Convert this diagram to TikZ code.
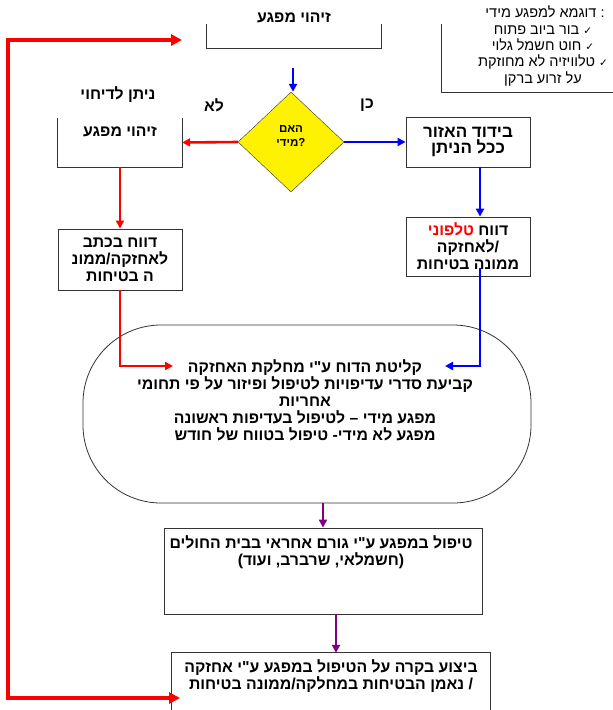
\documentclass[tikz,border=0pt]{standalone}
\usepackage{fontspec}
\setmainfont{Liberation Sans}[Script=Hebrew]
\newfontfamily\hebbold{Liberation Sans Bold}[Script=Hebrew]
\newfontfamily\checkfont{DejaVu Sans}
\TeXXeTstate=1
\usetikzlibrary{shapes.geometric,arrows.meta}
\definecolor{plum}{RGB}{128,0,128}
\newcommand{\heb}[1]{\beginR #1\endR}
\newcommand{\tick}{{\checkfont\fontsize{10.5}{10}\selectfont ✓}}

\begin{document}
\begin{tikzpicture}[x=1pt,y=-1pt,
  font=\hebbold\fontsize{15.8}{17}\selectfont,
  box/.style={draw=black!80,line width=0.8pt,inner sep=0pt},
  edge/.style={draw=black!80,line width=0.8pt},
  flow/.style={line width=2.6pt,-{Triangle[length=8pt,width=8pt]}},
  every node/.style={align=center}]
\useasboundingbox (0,0) rectangle (613,710);

%top box, open at the top
    \node[minimum width=174,minimum height=24,inner sep=0pt] (topbox) at (294,36) {};
    \draw[edge] (topbox.north west) -- (topbox.south west) -- (topbox.south east) -- (topbox.north east);
    \node (toplabel) at (294,18) {\heb{זיהוי מפגע}};

%example list
    \node[font=\fontsize{14.5}{16.4}\selectfont] (example) at (543,46)
      {\phantom{:}\heb{דוגמא למפגע מידי} :\\
       \heb{\tick\ בור ביוב פתוח}\\
       \heb{\tick\ חוט חשמל גלוי}\\
       \heb{\tick\ טלוויזיה לא מחוזקת}\\
       \heb{על זרוע ברקן}};
    \coordinate (exTop) at (441,24);
    \coordinate (exEnd) at (613,92);
    \draw[edge] (exTop) |- (exEnd);

%decision
    \node[diamond,draw=black!80,fill=yellow,minimum width=106,minimum height=100,inner sep=0pt] (urgent) at (291,142) {};
    \node[font=\hebbold\fontsize{11.5}{14}\selectfont] (urgenttext) at (291,136) {\heb{האם}\\\heb{מידי}?};
    \node (postpone) at (118,95) {\heb{ניתן לדיחוי}};
    \node (no) at (214,105) {\heb{לא}};
    \node (yes) at (367,105) {\heb{כן}};

%left branch
    \node[minimum width=124,minimum height=49,inner sep=0pt] (later) at (120,142.5) {};
    \draw[edge] (later.north west) -- (later.south west) -- (later.south east) -- (later.north east);
    \node (laterlabel) at (120,132) {\heb{זיהוי מפגע}};
    \node[box,minimum width=124,minimum height=61] (written) at (120,259.5)
      {\heb{דווח בכתב}\\\heb{לאחזקה/ממונ}\\\heb{ה בטיחות}};

%right branch
    \node[box,minimum width=124,minimum height=50,font=\hebbold\fontsize{17}{16.5}\selectfont] (isolate) at (468,142)
      {\heb{בידוד האזור}\\\heb{ככל הניתן}};
    \node[box,minimum width=124,minimum height=59] (phone) at (468,246.5)
      {{\color{red}\heb{טלפוני}} \heb{דווח}\\\heb{לאחזקה}/\\\heb{ממונה בטיחות}};

%maintenance
    \node[edge,rounded corners=78,minimum width=448,minimum height=178] (intake) at (307,414) {};
    \node (intaketext) at (305,400)
      {\heb{קליטת הדוח ע"י מחלקת האחזקה}\\
       \heb{קביעת סדרי עדיפויות לטיפול ופיזור על פי תחומי}\\
       \heb{אחריות}\\
       \heb{מפגע מידי – לטיפול בעדיפות ראשונה}\\
       \heb{מפגע לא מידי- טיפול בטווח של חודש}};
    \node[box,minimum width=318,minimum height=86] (handle) at (323,571) {};
    \node (handletext) at (321,552)
      {\heb{טיפול במפגע ע"י גורם אחראי בבית החולים}\\\heb{(חשמלאי, שרברב, ועוד)}};
    \node[minimum width=318,minimum height=57,inner sep=0pt] (control) at (331,681.5) {};
    \draw[edge] (control.south west) -- (control.north west) -- (control.north east) -- (control.south east);
    \node (controltext) at (331,676.5)
      {\heb{ביצוע בקרה על הטיפול במפגע ע"י אחזקה}\\\heb{נאמן הבטיחות במחלקה/ממונה בטיחות} /};

%connectors
    \coordinate (askIn) at (293,68);
    \coordinate (intakeL) at (173,366);
    \coordinate (intakeR) at (445,366);
    \coordinate (backTop) at (182,40);
    \coordinate (backBottom) at (180,698);
    \draw[flow,blue] (askIn) -- (askIn |- urgent.north);
    \draw[flow,red] (urgent.west) -- (later.east);
    \draw[flow,blue] (urgent.east) -- (isolate.west);
    \draw[flow,red] (later.south) -- (written.north);
    \draw[flow,blue] ([xshift=12pt]isolate.south) -- ([xshift=12pt]phone.north);
    \draw[flow,red] (written.south) |- (intakeL);
    \draw[flow,blue] ([xshift=12pt,yshift=8pt]phone.south) |- (intakeR);
    \draw[flow,plum,line width=2pt] (intake.south -| handle.north) -- (handle.north);
    \draw[flow,plum,line width=2pt] ([xshift=13pt]handle.south) -- ([xshift=13pt]handle.south |- control.north);
%way back
    \draw[red,line width=3.8pt,{Triangle[length=11pt,width=11pt]}-{Triangle[length=11pt,width=11pt]}]
      (backTop) -- (8,40) -- (8,698) -- (backBottom);
\end{tikzpicture}
\end{document}
